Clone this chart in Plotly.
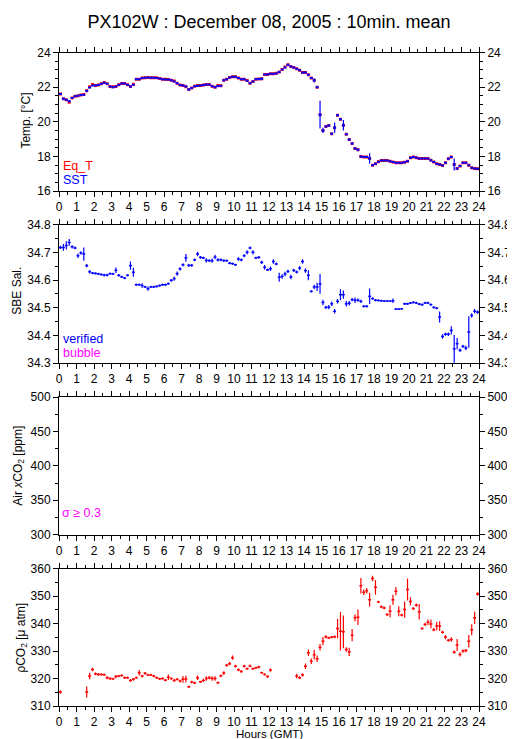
import plotly.graph_objects as go

# ---------------- data (10-minute means, 144 per day) ----------------
hours = [(k + 0.5) / 6 for k in range(144)]
half_bin = 1 / 12  # half of a 10-min bin, in hours

sst = [21.60, 21.33, 21.27, 21.18, 21.37, 21.47, 21.50, 21.54, 21.56, 21.79, 21.98, 22.10,
       22.10, 22.12, 22.20, 22.25, 22.20, 22.04, 22.00, 22.04, 22.14, 22.21, 22.21, 22.14,
       22.04, 22.14, 22.46, 22.46, 22.52, 22.54, 22.56, 22.54, 22.54, 22.52, 22.50, 22.46,
       22.44, 22.44, 22.40, 22.33, 22.23, 22.12, 22.10, 22.04, 21.87, 21.95, 22.05, 22.08,
       22.10, 22.12, 22.15, 22.15, 22.05, 22.00, 22.06, 22.08, 22.39, 22.45, 22.56, 22.60,
       22.60, 22.52, 22.46, 22.45, 22.37, 22.23, 22.33, 22.46, 22.47, 22.48, 22.73, 22.73,
       22.77, 22.77, 22.79, 22.87, 23.02, 23.14, 23.29, 23.19, 23.14, 23.06, 22.98, 22.85,
       22.85, 22.71, 22.52, 22.39, 22.00, 20.41, 19.50, 19.72, 19.78, 19.30, 19.66, 20.37,
       20.14, 19.80, 19.28, 18.97, 18.74, 18.45, 18.38, 17.99, 17.97, 17.97, 17.88, 17.49,
       17.57, 17.69, 17.76, 17.76, 17.76, 17.72, 17.67, 17.63, 17.63, 17.63, 17.66, 17.72,
       17.92, 17.97, 17.92, 17.88, 17.88, 17.88, 17.88, 17.78, 17.67, 17.57, 17.53, 17.47,
       17.63, 17.86, 17.97, 17.53, 17.30, 17.45, 17.63, 17.63, 17.49, 17.34, 17.30, 17.28]

sst_sd = [0.03, 0.06, 0.04, 0.06, 0.04, 0.03, 0.03, 0.03, 0.03, 0.05, 0.04, 0.03,
          0.03, 0.03, 0.03, 0.03, 0.03, 0.03, 0.03, 0.03, 0.03, 0.03, 0.03, 0.03,
          0.05, 0.03, 0.05, 0.03, 0.03, 0.03, 0.03, 0.03, 0.03, 0.03, 0.03, 0.03,
          0.03, 0.03, 0.03, 0.03, 0.03, 0.03, 0.03, 0.05, 0.06, 0.03, 0.03, 0.03,
          0.03, 0.03, 0.03, 0.03, 0.03, 0.05, 0.06, 0.03, 0.05, 0.03, 0.03, 0.03,
          0.03, 0.03, 0.03, 0.03, 0.03, 0.05, 0.03, 0.03, 0.03, 0.08, 0.03, 0.03,
          0.03, 0.03, 0.03, 0.03, 0.03, 0.03, 0.03, 0.03, 0.03, 0.03, 0.03, 0.03,
          0.03, 0.03, 0.05, 0.12, 0.04, 0.80, 0.15, 0.05, 0.05, 0.06, 0.30, 0.05,
          0.06, 0.30, 0.05, 0.05, 0.05, 0.04, 0.08, 0.04, 0.03, 0.03, 0.30, 0.04,
          0.04, 0.03, 0.03, 0.03, 0.03, 0.03, 0.03, 0.03, 0.03, 0.03, 0.03, 0.03,
          0.03, 0.03, 0.03, 0.03, 0.03, 0.03, 0.03, 0.03, 0.03, 0.03, 0.03, 0.03,
          0.03, 0.03, 0.03, 0.35, 0.04, 0.04, 0.03, 0.03, 0.03, 0.03, 0.03, 0.04]

eq_t = [21.60, 21.33, 21.27, 21.12, 21.37, 21.47, 21.50, 21.54, 21.58, 21.79, 22.02, 22.15,
        22.10, 22.12, 22.20, 22.27, 22.20, 22.04, 22.02, 22.04, 22.14, 22.21, 22.21, 22.14,
        22.04, 22.16, 22.46, 22.46, 22.52, 22.54, 22.56, 22.54, 22.54, 22.54, 22.50, 22.46,
        22.46, 22.44, 22.40, 22.36, 22.23, 22.12, 22.10, 22.02, 21.87, 21.95, 22.05, 22.10,
        22.10, 22.12, 22.15, 22.15, 22.05, 22.00, 22.10, 22.08, 22.39, 22.45, 22.56, 22.60,
        22.60, 22.52, 22.46, 22.45, 22.38, 22.23, 22.33, 22.46, 22.47, 22.48, 22.73, 22.73,
        22.77, 22.77, 22.80, 22.87, 23.02, 23.16, 23.29, 23.19, 23.14, 23.06, 22.98, 22.85,
        22.85, 22.71, 22.52, 22.39, 22.00, 20.41, 19.50, 19.72, 19.78, 19.30, 19.66, 20.37,
        20.14, 19.80, 19.28, 18.97, 18.74, 18.45, 18.38, 17.99, 17.97, 17.97, 17.88, 17.49,
        17.57, 17.69, 17.76, 17.76, 17.76, 17.72, 17.67, 17.63, 17.63, 17.63, 17.66, 17.72,
        17.92, 17.97, 17.92, 17.88, 17.88, 17.88, 17.88, 17.78, 17.67, 17.57, 17.53, 17.47,
        17.63, 17.86, 17.97, 17.53, 17.30, 17.45, 17.63, 17.63, 17.49, 17.34, 17.30, 17.28]

sal = [34.718, 34.718, 34.725, 34.736, 34.720, 34.716, 34.688, 34.698, 34.694, 34.652, 34.630, 34.625,
       34.624, 34.622, 34.620, 34.618, 34.618, 34.623, 34.622, 34.635, 34.617, 34.611, 34.607, 34.617,
       34.652, 34.628, 34.583, 34.583, 34.580, 34.575, 34.569, 34.575, 34.575, 34.577, 34.580, 34.583,
       34.583, 34.587, 34.599, 34.605, 34.623, 34.640, 34.655, 34.680, 34.653, 34.653, 34.673, 34.694,
       34.682, 34.680, 34.671, 34.670, 34.670, 34.683, 34.673, 34.673, 34.670, 34.670, 34.661, 34.659,
       34.655, 34.676, 34.673, 34.688, 34.700, 34.716, 34.700, 34.680, 34.682, 34.664, 34.646, 34.637,
       34.641, 34.667, 34.658, 34.610, 34.613, 34.622, 34.631, 34.611, 34.635, 34.629, 34.643, 34.667,
       34.634, 34.617, 34.559, 34.575, 34.575, 34.586, 34.519, 34.501, 34.502, 34.514, 34.487, 34.523,
       34.547, 34.547, 34.514, 34.516, 34.529, 34.527, 34.527, 34.523, 34.505, 34.505, 34.541, 34.533,
       34.527, 34.526, 34.525, 34.524, 34.524, 34.524, 34.525, 34.495, 34.495, 34.496, 34.514, 34.514,
       34.517, 34.519, 34.517, 34.513, 34.511, 34.517, 34.517, 34.511, 34.501, 34.498, 34.466, 34.396,
       34.404, 34.404, 34.418, 34.351, 34.370, 34.346, 34.360, 34.354, 34.412, 34.472, 34.487, 34.484]

sal_sd = [0.006, 0.012, 0.015, 0.012, 0.006, 0.005, 0.008, 0.006, 0.024, 0.006, 0.006, 0.004,
          0.004, 0.004, 0.004, 0.005, 0.005, 0.004, 0.004, 0.010, 0.005, 0.004, 0.004, 0.004,
          0.015, 0.016, 0.004, 0.004, 0.008, 0.004, 0.008, 0.004, 0.004, 0.004, 0.004, 0.004,
          0.004, 0.004, 0.005, 0.008, 0.008, 0.006, 0.006, 0.014, 0.006, 0.005, 0.005, 0.008,
          0.005, 0.004, 0.008, 0.005, 0.008, 0.008, 0.006, 0.005, 0.005, 0.004, 0.004, 0.004,
          0.004, 0.006, 0.005, 0.006, 0.008, 0.005, 0.008, 0.004, 0.005, 0.006, 0.008, 0.004,
          0.008, 0.008, 0.005, 0.016, 0.008, 0.008, 0.006, 0.008, 0.006, 0.005, 0.008, 0.008,
          0.008, 0.018, 0.004, 0.008, 0.015, 0.036, 0.010, 0.006, 0.008, 0.008, 0.008, 0.008,
          0.020, 0.015, 0.010, 0.008, 0.006, 0.010, 0.006, 0.006, 0.004, 0.004, 0.028, 0.004,
          0.004, 0.004, 0.004, 0.003, 0.003, 0.003, 0.008, 0.003, 0.003, 0.003, 0.004, 0.004,
          0.004, 0.004, 0.004, 0.004, 0.004, 0.004, 0.004, 0.004, 0.004, 0.004, 0.020, 0.008,
          0.006, 0.006, 0.015, 0.050, 0.020, 0.006, 0.006, 0.008, 0.057, 0.008, 0.008, 0.006]

pco2 = [315.1, None, None, None, None, None, None, None, None, 315.1, 320.9, 323.3,
        321.7, 321.5, 321.5, 321.4, 320.3, 320.0, 319.9, 320.7, 320.9, 321.1, 320.3, 320.3,
        319.3, 319.7, 320.3, 322.1, 320.9, 321.9, 321.3, 321.3, 320.9, 320.3, 319.9, 320.0,
        319.4, 320.5, 320.0, 319.3, 319.7, 319.1, 319.7, 319.8, 317.0, 318.7, 318.4, 320.3,
        318.8, 319.3, 320.0, 320.3, 320.0, 320.0, 318.5, 321.0, 322.0, 324.8, 325.4, 327.6,
        324.5, 323.2, 322.6, 324.5, 323.6, 324.6, 323.6, 323.9, 324.2, 322.1, 321.5, 320.7,
        323.1, None, None, None, None, None, None, None, None, 320.9, 320.3, 321.3,
        324.5, 329.4, 326.3, 328.7, 327.2, 331.4, 333.6, 335.2, 334.8, 335.1, 335.2, 338.2,
        337.2, 337.0, 330.6, 329.7, 335.8, 342.1, 342.3, 353.8, 351.4, 352.0, 348.7, 356.4,
        353.2, 347.9, 346.1, 345.7, 343.3, 344.5, 348.7, 351.8, 344.5, 343.1, 345.1, 352.4,
        348.1, 345.5, 346.7, 344.3, 338.2, 339.7, 340.5, 339.9, 337.8, 339.1, 339.1, 336.9,
        335.1, 333.9, 334.2, 329.6, 332.2, 328.8, 330.0, 330.2, 333.6, 337.8, 342.1, 350.8]

pco2_sd = [0.6, 0, 0, 0, 0, 0, 0, 0, 0, 2.0, 1.2, 0.6,
           0.5, 0.5, 0.4, 0.4, 0.6, 0.5, 0.4, 0.6, 0.4, 0.4, 0.4, 0.4,
           0.5, 0.5, 0.4, 1.0, 0.5, 0.5, 0.4, 0.4, 0.4, 0.4, 0.4, 0.4,
           0.4, 1.0, 0.4, 0.5, 0.4, 0.5, 1.2, 1.2, 0.4, 0.5, 0.4, 0.8,
           0.4, 0.6, 0.8, 0.6, 0.8, 0.8, 0.4, 0.5, 0.7, 0.5, 0.6, 0.8,
           0.5, 0.5, 0.5, 0.5, 0.4, 0.5, 0.4, 0.4, 0.5, 0.4, 0.4, 0.4,
           0.6, 0, 0, 0, 0, 0, 0, 0, 0, 0.8, 0.5, 0.6,
           1.0, 1.2, 1.0, 1.8, 1.2, 1.2, 1.5, 0.6, 0.4, 0.4, 0.5, 3.5,
           7.0, 6.0, 0.8, 1.5, 2.2, 1.2, 2.8, 2.8, 1.0, 1.0, 2.5, 1.0,
           2.7, 0.4, 0.5, 0.5, 0.5, 2.2, 1.8, 1.5, 1.8, 0.5, 3.0, 4.0,
           1.5, 0.5, 0.6, 2.8, 0.4, 0.6, 1.0, 1.6, 0.6, 1.5, 1.8, 0.5,
           0.8, 0.5, 0.8, 0.6, 2.2, 0.8, 0.6, 0.6, 2.3, 2.0, 2.2, 0.6]

hour_ticks = list(range(0, 25))

# ---------------- figure ----------------
W, H = 515, 739
ML, MR, MT, MB = 51, 37, 44, 41
PW, PH = W - ML - MR, H - MT - MB
FONT = "Liberation Sans, Arial, sans-serif"
BLUE, RED, MAG = "#0000ff", "#ff0000", "#ff00ff"


def py(pix):  # pixel row -> paper y
    return (H - MB - pix) / PH


def px(pix):  # pixel column -> paper x
    return (pix - ML) / PW


panels = [  # (top px, bottom px, range, dtick, minor)
    (44.5, 183, [16, 24], 2, 0.5),
    (216.7, 355, [34.3, 34.8], 0.1, 0.05),
    (389, 526.7, [300, 500], 50, 25),
    (560.7, 698, [310, 360], 10, 5),
]

fig = go.Figure()


def crosses(yvals, ysd, color, xa, ya, thick=1.0):
    ey = dict(type="data", array=ysd, width=0, thickness=1.2, color=color) if ysd is not None \
        else dict(visible=False)
    return go.Scatter(
        x=hours, y=yvals, mode="markers",
        marker=dict(size=2, color=color, opacity=0),
        error_x=dict(type="constant", value=half_bin, width=0, thickness=thick, color=color),
        error_y=ey, xaxis=xa, yaxis=ya, showlegend=False, hoverinfo="skip", cliponaxis=True)


fig.add_trace(crosses(eq_t, None, RED, "x", "y", thick=3))
fig.add_trace(crosses(sst, sst_sd, BLUE, "x", "y", thick=2))
fig.add_trace(crosses(sal, sal_sd, BLUE, "x2", "y2", thick=1.5))
fig.add_trace(go.Scatter(x=[None], y=[None], xaxis="x3", yaxis="y3", showlegend=False))
fig.add_trace(crosses(pco2, pco2_sd, RED, "x4", "y4", thick=1.5))
for i in range(4):
    fig.add_trace(go.Scatter(x=[None], y=[None], xaxis="x" if i == 0 else f"x{i+1}",
                             yaxis=f"y{i+5}", showlegend=False))

tickfont = dict(family=FONT, size=12, color="black")
layout = dict(width=W, height=H, margin=dict(l=ML, r=MR, t=MT, b=MB),
              paper_bgcolor="white", plot_bgcolor="white", showlegend=False,
              font=dict(family=FONT, color="black"))

for i, (top, bot, rng, dt, mn) in enumerate(panels):
    n = "" if i == 0 else str(i + 1)
    dom = [py(bot), py(top)]
    layout[f"xaxis{n}"] = dict(
        domain=[0, 1], range=[0, 24], anchor=f"y{n}", tickmode="array", tickvals=hour_ticks,
        ticks="outside", ticklen=5, tickwidth=1, tickcolor="black", showline=True,
        linecolor="black", linewidth=1, mirror="ticks", showgrid=False, zeroline=False,
        tickfont=tickfont,
        minor=dict(dtick=0.5, tick0=0, ticks="outside", ticklen=3, tickcolor="black", showgrid=False))
    layout[f"yaxis{n}"] = dict(
        domain=dom, range=rng, dtick=dt, tick0=rng[0], ticks="outside", ticklen=5,
        tickcolor="black", showline=True, linecolor="black", linewidth=1, mirror=True,
        showgrid=False, zeroline=False, tickfont=tickfont, anchor=f"x{n}",
        minor=dict(dtick=mn, ticks="outside", ticklen=3, tickcolor="black", showgrid=False))
    layout[f"yaxis{i+5}"] = dict(
        overlaying=f"y{n}", side="right", anchor=f"x{n}", range=rng, dtick=dt, tick0=rng[0],
        ticks="outside", ticklen=5, tickcolor="black", showline=False, showgrid=False,
        zeroline=False, tickfont=tickfont,
        minor=dict(dtick=mn, ticks="outside", ticklen=3, tickcolor="black", showgrid=False))

fig.update_layout(**layout)

fig.update_layout(title=dict(text="PX102W : December 08, 2005 : 10min. mean",
                             x=0.5, xref="paper", xanchor="center", y=1 - 14 / H, yanchor="middle",
                             font=dict(family=FONT, size=18, color="black")))

ann = []


def add(text, xp, yp, color="black", size=12, angle=0, xanchor="left"):
    ann.append(dict(text=text, x=px(xp), y=py(yp), xref="paper", yref="paper",
                    showarrow=False, textangle=angle, xanchor=xanchor, yanchor="middle",
                    font=dict(family=FONT, size=size, color=color)))


add("Temp. [°C]", 17, 113, angle=-90, xanchor="center")
add("SBE Sal.", 8, 283, angle=-90, xanchor="center")
add("Air <i>x</i>CO<sub>2</sub> [ppm]", 10, 458, angle=-90, xanchor="center")
add("ρCO<sub>2</sub> [μ atm]", 13, 630, angle=-90, xanchor="center")
add("Hours (GMT)", 265, 726, size=11.5, xanchor="center")
add("Eq_T", 53, 158, color=RED, size=12.5)
add("SST", 53, 172, color=BLUE, size=12.5)
add("verified", 53, 331, color=BLUE, size=12.5)
add("bubble", 53, 345, color=MAG, size=12.5)
add("σ ≥ 0.3", 52, 505, color=MAG, size=12.5)
fig.update_layout(annotations=ann)

fig.write_html("out.html")
